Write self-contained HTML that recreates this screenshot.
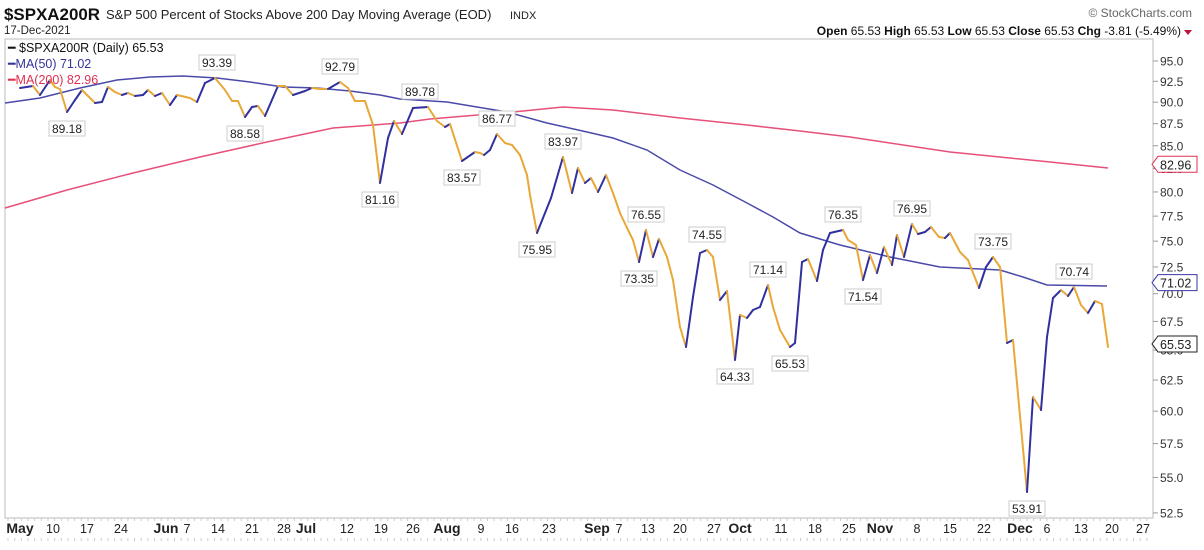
<!DOCTYPE html>
<html><head><meta charset="utf-8"><style>
body{margin:0;background:#fff;width:1204px;height:550px;overflow:hidden;font-family:"Liberation Sans",Arial,sans-serif}
svg{position:absolute;left:0;top:0}
</style></head><body>
<svg id="s" width="1204" height="550" xmlns="http://www.w3.org/2000/svg" font-family="Liberation Sans, Arial, sans-serif">
<text x="4" y="20" font-size="17" font-weight="bold" fill="#111" textLength="96" lengthAdjust="spacingAndGlyphs">$SPXA200R</text>
<text x="106" y="19" font-size="13" fill="#222">S&amp;P 500 Percent of Stocks Above 200 Day Moving Average (EOD)</text>
<text x="510" y="19" font-size="11" fill="#222">INDX</text>
<text x="4" y="34" font-size="11.5" fill="#222">17-Dec-2021</text>
<text x="1192" y="17" font-size="12" fill="#666" text-anchor="end">© StockCharts.com</text>
<text x="1181" y="35" font-size="12" fill="#111" text-anchor="end"><tspan font-weight="bold">Open</tspan> 65.53  <tspan font-weight="bold">High</tspan> 65.53  <tspan font-weight="bold">Low</tspan> 65.53  <tspan font-weight="bold">Close</tspan> 65.53  <tspan font-weight="bold">Chg</tspan> -3.81 (-5.49%)</text>
<path d="M1184 30 L1192 30 L1188 35 Z" fill="#c0143c"/>
<rect x="5" y="39" width="1148" height="479" fill="none" stroke="#bbb"/>
<g id="g"></g>
<text x="8" y="52" font-size="12.5" fill="#111">━ $SPXA200R (Daily) 65.53</text>
<text x="8" y="68" font-size="12.5" fill="#33339a">━MA(50) 71.02</text>
<text x="8" y="84" font-size="12.5" fill="#e03050">━MA(200) 82.96</text>
</svg>
<script>
var g=document.getElementById('g'),NS='http://www.w3.org/2000/svg';
function el(t,a,txt){var e=document.createElementNS(NS,t);for(var k in a)e.setAttribute(k,a[k]);if(txt)e.textContent=txt;g.appendChild(e);return e;}
function Y(v){return 61+762*Math.log(95/v);}
for(var v=52.5;v<=95.01;v+=2.5){var y=Y(v);el('line',{x1:1153,x2:1158,y1:y,y2:y,stroke:'#999'});el('text',{x:1160,y:y+4.5,'font-size':12,fill:'#333'},v.toFixed(1));}
var xl=[['May',20,1],['10',53],['17',87],['24',121],['Jun',166,1],['7',187],['14',218],['21',252],['28',284],['Jul',306,1],['12',347],['19',381],['26',413],['Aug',447,1],['9',481],['16',512],['23',549],['Sep',597,1],['7',619],['13',648],['20',680],['27',714],['Oct',740,1],['11',781],['18',815],['25',849],['Nov',880,1],['8',917],['15',950],['22',984],['Dec',1020,1],['6',1047],['13',1081],['20',1112],['27',1143]];
xl.forEach(function(l){el('text',{x:l[1],y:533,'font-size':l[2]?14:12.5,'font-weight':l[2]?'bold':'normal',fill:'#222','text-anchor':'middle'},l[0]);});
for(var x=8;x<1152;x+=6.66){el('line',{x1:x,x2:x,y1:518,y2:521,stroke:'#ccc'});el('line',{x1:x,x2:x,y1:538,y2:541,stroke:'#ccc'});}
var r=[[5,208],[67,190],[133,173],[200,157],[267,142],[333,128],[400,123],[430,119],[513,112],[563,107],[613,110],[680,118],[747,125],[800,131],[850,137],[950,152],[1050,162],[1108,168]];
el('polyline',{points:r.join(' '),fill:'none',stroke:'#e8507a','stroke-width':1.5});
var b=[[5,103],[40,98],[80,88],[117,80],[150,77],[183,76],[217,78],[250,82],[283,87],[317,88],[350,91],[380,95],[400,99],[447,102],[507,112],[547,123],[587,132],[613,138],[647,150],[680,170],[713,185],[747,203],[773,217],[800,233],[840,245],[890,257],[940,267],[1000,270],[1023,277],[1047,285],[1107,286]];
el('polyline',{points:b.join(' '),fill:'none',stroke:'#4a4aaa','stroke-width':1.5});
var p=[[20,88],[33,86],[40,95],[50,80],[55,87],[60,89],[67,112],[75,100],[82,90],[95,103],[102,102],[108,87],[115,92],[122,95],[128,93],[135,96],[143,95],[148,90],[155,96],[162,93],[170,105],[177,95],[190,98],[197,102],[205,83],[215,78],[225,90],[232,101],[238,101],[245,117],[252,107],[258,106],[265,116],[278,86],[285,86],[293,95],[305,91],[312,88],[320,89],[328,89],[340,82],[348,88],[355,101],[365,101],[373,125],[380,183],[388,138],[394,121],[402,134],[413,108],[428,107],[437,121],[445,127],[450,124],[462,161],[475,152],[480,153],[484,155],[490,150],[497,134],[505,143],[512,145],[520,155],[527,175],[530,195],[537,233],[551,198],[563,157],[572,193],[578,168],[585,183],[591,178],[598,192],[606,175],[613,193],[620,213],[628,230],[633,240],[639,262],[646,230],[653,257],[659,239],[667,257],[673,280],[680,327],[686,347],[693,297],[700,253],[707,250],[713,257],[720,300],[727,291],[735,360],[740,315],[747,318],[753,310],[760,307],[768,285],[773,307],[780,330],[790,347],[795,343],[802,262],[808,259],[817,281],[823,250],[830,233],[843,230],[848,240],[856,245],[863,280],[870,255],[877,273],[884,247],[892,265],[897,235],[904,257],[912,224],[918,234],[925,232],[931,227],[939,237],[945,238],[950,233],[960,252],[968,260],[979,288],[986,267],[993,257],[1000,267],[1007,343],[1013,340],[1027,492],[1033,397],[1041,410],[1047,337],[1053,298],[1061,290],[1068,296],[1074,287],[1081,305],[1088,313],[1095,301],[1102,304],[1108,347]];
for(var i=1;i<p.length;i++){el('line',{x1:p[i-1][0],y1:p[i-1][1],x2:p[i][0],y2:p[i][1],stroke:p[i][1]<p[i-1][1]?'#3030a0':'#e8a838','stroke-width':2,'stroke-linecap':'round'});}
var a=[[67,112,'89.18',1],[217,78,'93.39',0],[245,117,'88.58',1],[340,82,'92.79',0],[380,183,'81.16',1],[420,107,'89.78',0],[462,161,'83.57',1],[497,134,'86.77',0],[537,233,'75.95',1],[563,157,'83.97',0],[639,262,'73.35',1],[646,230,'76.55',0],[707,250,'74.55',0],[735,360,'64.33',1],[768,285,'71.14',0],[790,347,'65.53',1],[843,230,'76.35',0],[863,280,'71.54',1],[912,224,'76.95',0],[993,257,'73.75',0],[1027,492,'53.91',1],[1074,287,'70.74',0]];
a.forEach(function(q){var x=q[0],y=q[1],by=q[3]?y+9:y-23;el('rect',{x:x-18,y:by,width:36,height:15,fill:'#fff',stroke:'#ccc'});el('text',{x:x,y:by+12,'font-size':12,fill:'#222','text-anchor':'middle'},q[2]);});
function tag(v,c,t){var y=Y(v);el('path',{d:'M1152 '+y+' L1158 '+(y-8)+' L1197 '+(y-8)+' L1197 '+(y+8)+' L1158 '+(y+8)+' Z',fill:'#fff',stroke:c});el('text',{x:1160,y:y+5,'font-size':12.5,fill:'#222'},t);}
tag(82.96,'#e03050','82.96');tag(71.02,'#3535aa','71.02');tag(65.53,'#222','65.53');
</script>
</body></html>
